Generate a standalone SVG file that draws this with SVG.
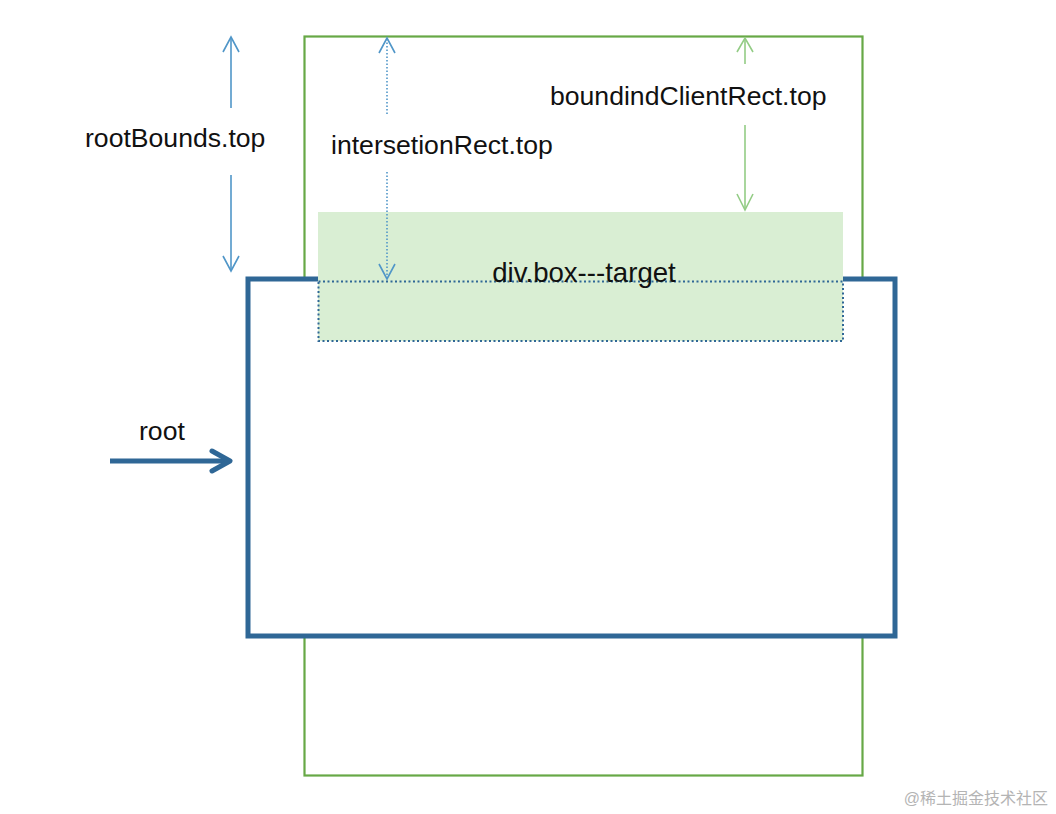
<svg xmlns="http://www.w3.org/2000/svg" width="1056" height="814" viewBox="0 0 1056 814">
<style>
.lbl{font-family:"Liberation Sans",Arial,sans-serif;font-size:26.6px;fill:#111}
.dimb{stroke:#5096c8;stroke-width:1.6;fill:none}
.dimbd{stroke:#5096c8;stroke-width:1.6;fill:none;stroke-dasharray:1.5 2}
.dimg{stroke:#93cc85;stroke-width:1.6;fill:none}
</style>
<rect width="1056" height="814" fill="#fff"/>
<g id="viewport">
<rect x="304.5" y="36.5" width="558" height="739" fill="none" stroke="#67a846" stroke-width="2.2"/>
</g>
<g id="root-box">
<rect x="248" y="279" width="647" height="357" fill="#fff" stroke="#2f6796" stroke-width="5"/>
</g>
<g id="target">
<rect x="318" y="212" width="525" height="129" fill="#d9eed3"/>
<rect x="318.5" y="281.5" width="524.5" height="59.5" fill="none" stroke="#2f6796" stroke-width="2" stroke-dasharray="2 2.5"/>
<text class="lbl" x="584" y="282" text-anchor="middle" style="font-size:27.6px">div.box---target</text>
</g>
<g id="connectors">
<g id="rootBounds-top">
<line class="dimb" x1="231" y1="37" x2="231" y2="108"/>
<polyline class="dimb" points="223,52 231,37 239,52"/>
<line class="dimb" x1="231" y1="175" x2="231" y2="271"/>
<polyline class="dimb" points="223,256 231,271 239,256"/>
</g>
<g id="intersectionRect-top">
<line class="dimbd" x1="387" y1="39" x2="387" y2="115"/>
<polyline class="dimb" points="379,53 387,38 395,53"/>
<line class="dimbd" x1="387" y1="172" x2="387" y2="279"/>
<polyline class="dimb" points="379,264 387,279 395,264"/>
</g>
<g id="boundingClientRect-top">
<line class="dimg" x1="745" y1="38" x2="745" y2="64"/>
<polyline class="dimg" points="737,52 745,38 753,52"/>
<line class="dimg" x1="745" y1="125" x2="745" y2="210"/>
<polyline class="dimg" points="737,194 745,210 753,194"/>
</g>
<g id="root-arrow">
<line x1="110" y1="461" x2="229" y2="461" stroke="#2f6796" stroke-width="5"/>
<polyline points="212,451 230,461 212,471" fill="none" stroke="#2f6796" stroke-width="5" stroke-linecap="round" stroke-linejoin="round"/>
</g>
</g>
<g id="labels">
<text class="lbl" x="85" y="147">rootBounds.top</text>
<text class="lbl" x="331" y="154">intersetionRect.top</text>
<text class="lbl" x="550" y="105">boundindClientRect.top</text>
<text class="lbl" x="139" y="440">root</text>
<text x="1048" y="804" text-anchor="end" font-family="'Liberation Sans','Noto Sans CJK SC',sans-serif" font-size="16" fill="#b4b4b4">@稀土掘金技术社区</text>
</g>
</svg>
